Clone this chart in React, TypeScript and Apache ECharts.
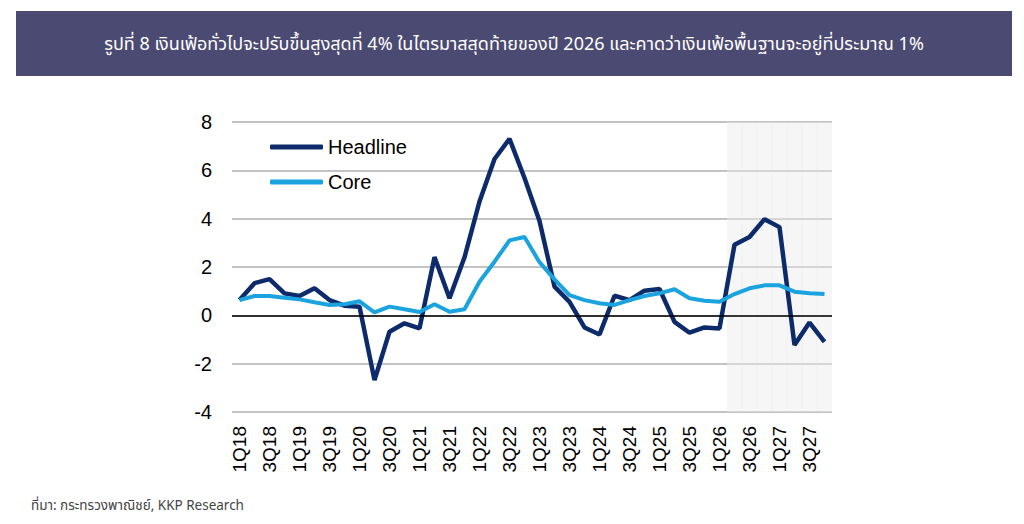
import React, { useEffect, useRef } from "react";
import * as echarts from "echarts";

const quarters = [
  "1Q18", "2Q18", "3Q18", "4Q18", "1Q19", "2Q19", "3Q19", "4Q19",
  "1Q20", "2Q20", "3Q20", "4Q20", "1Q21", "2Q21", "3Q21", "4Q21",
  "1Q22", "2Q22", "3Q22", "4Q22", "1Q23", "2Q23", "3Q23", "4Q23",
  "1Q24", "2Q24", "3Q24", "4Q24", "1Q25", "2Q25", "3Q25", "4Q25",
  "1Q26", "2Q26", "3Q26", "4Q26", "1Q27", "2Q27", "3Q27", "4Q27",
];

const headline = [
  0.63, 1.33, 1.5, 0.91, 0.8, 1.12, 0.63, 0.4,
  0.36, -2.68, -0.68, -0.33, -0.54, 2.41, 0.71, 2.4,
  4.71, 6.47, 7.3, 5.68, 3.9, 1.19, 0.56, -0.5,
  -0.79, 0.81, 0.63, 1.02, 1.09, -0.27, -0.72, -0.5,
  -0.54, 2.92, 3.24, 3.98, 3.65, -1.23, -0.3, -1.1,
];

const core = [
  0.63, 0.8, 0.8, 0.73, 0.66, 0.54, 0.43, 0.46,
  0.58, 0.12, 0.36, 0.25, 0.14, 0.46, 0.15, 0.25,
  1.39, 2.22, 3.1, 3.24, 2.2, 1.49, 0.84, 0.63,
  0.5, 0.43, 0.63, 0.8, 0.91, 1.08, 0.71, 0.6,
  0.56, 0.88, 1.12, 1.24, 1.24, 0.98, 0.91, 0.88,
];

const yMin = -4;
const yMax = 8;
const yStep = 2;
const forecastRange = [[33, 40]];

const titleText =
  "รูปที่ 8 เงินเฟ้อทั่วไปจะปรับขึ้นสูงสุดที่ 4% ในไตรมาสสุดท้ายของปี 2026 และคาดว่าเงินเฟ้อพื้นฐานจะอยู่ที่ประมาณ 1%";
const sourceText = "ที่มา: กระทรวงพาณิชย์, KKP Research";

const thaiFont = "'Noto Sans Thai', 'Noto Sans', 'DejaVu Sans', sans-serif";
const latinFont = "'Liberation Sans', Arial, sans-serif";

export default function App() {
  const ref = useRef<HTMLDivElement>(null);

  useEffect(() => {
    if (!ref.current) return;
    const chart = echarts.init(ref.current, null, { renderer: "svg" });
    chart.setOption({
      animation: false,
      backgroundColor: "#ffffff",
      grid: { left: 232, right: 192, top: 122, bottom: 112, containLabel: false },
      legend: {
        data: ["Headline", "Core"],
        orient: "vertical",
        left: 270,
        top: 137,
        padding: 0,
        itemWidth: 53,
        itemHeight: 5,
        itemGap: 15,
        icon: "roundRect",
        textStyle: { fontSize: 20, color: "#000", fontFamily: latinFont },
      },
      xAxis: [
        {
          type: "category",
          data: quarters,
          boundaryGap: true,
          axisLine: { show: false },
          axisTick: { show: false },
          splitLine: { show: false },
          axisLabel: {
            rotate: 90,
            interval: 1,
            fontSize: 19,
            color: "#000",
            margin: 14,
            fontFamily: latinFont,
          },
        },
        {
          type: "value",
          min: 0,
          max: quarters.length,
          show: false,
        },
      ],
      yAxis: {
        type: "value",
        min: yMin,
        max: yMax,
        interval: yStep,
        axisLine: { show: false },
        axisTick: { show: false },
        splitLine: { lineStyle: { color: "#c3c3c3", width: 2 } },
        axisLabel: { fontSize: 20, color: "#000", margin: 20, fontFamily: latinFont },
      },
      graphic: [
        {
          type: "rect",
          shape: { x: 16, y: 11, width: 996, height: 65 },
          style: { fill: "#4b4a72" },
          silent: true,
        },
        {
          type: "text",
          x: 514,
          y: 44,
          style: {
            text: titleText,
            fill: "#ffffff",
            fontSize: 18,
            fontFamily: thaiFont,
            textAlign: "center",
            textVerticalAlign: "middle",
          },
          silent: true,
        },
        {
          type: "text",
          x: 31,
          y: 506,
          style: {
            text: sourceText,
            fill: "#444444",
            fontSize: 13.5,
            fontFamily: thaiFont,
            textAlign: "left",
            textVerticalAlign: "middle",
          },
          silent: true,
        },
      ],
      series: [
        {
          type: "custom",
          xAxisIndex: 1,
          yAxisIndex: 0,
          z: 1,
          silent: true,
          data: forecastRange,
          renderItem: (params: any, api: any) => {
            const s = api.value(0);
            const e = api.value(1);
            const p0 = api.coord([s, yMax]);
            const p1 = api.coord([e, yMin]);
            const children: any[] = [
              {
                type: "rect",
                shape: { x: p0[0], y: p0[1], width: p1[0] - p0[0], height: p1[1] - p0[1] },
                style: { fill: "rgba(236,236,236,0.45)" },
              },
            ];
            for (let k = s + 1; k < e; k++) {
              const a = api.coord([k, yMax]);
              const b = api.coord([k, yMin]);
              children.push({
                type: "line",
                shape: { x1: a[0], y1: a[1], x2: b[0], y2: b[1] },
                style: { stroke: "rgba(228,228,228,0.3)", lineWidth: 1 },
              });
            }
            return { type: "group", children };
          },
        },
        {
          name: "Headline",
          type: "line",
          data: headline,
          z: 3,
          symbol: "none",
          lineStyle: { color: "#0d2b6b", width: 4.5 },
          itemStyle: { color: "#0d2b6b" },
          markLine: {
            silent: true,
            symbol: ["none", "none"],
            label: { show: false },
            lineStyle: { color: "#000", width: 1.5, type: "solid" },
            data: [{ yAxis: 0 }],
          },
        },
        {
          name: "Core",
          type: "line",
          data: core,
          z: 4,
          symbol: "none",
          lineStyle: { color: "#1aa3de", width: 4 },
          itemStyle: { color: "#1aa3de" },
        },
      ],
    });
    return () => chart.dispose();
  }, []);

  return (
    <div
      ref={ref}
      style={{ position: "absolute", left: 0, top: 0, width: 1024, height: 524, background: "#fff" }}
    />
  );
}
